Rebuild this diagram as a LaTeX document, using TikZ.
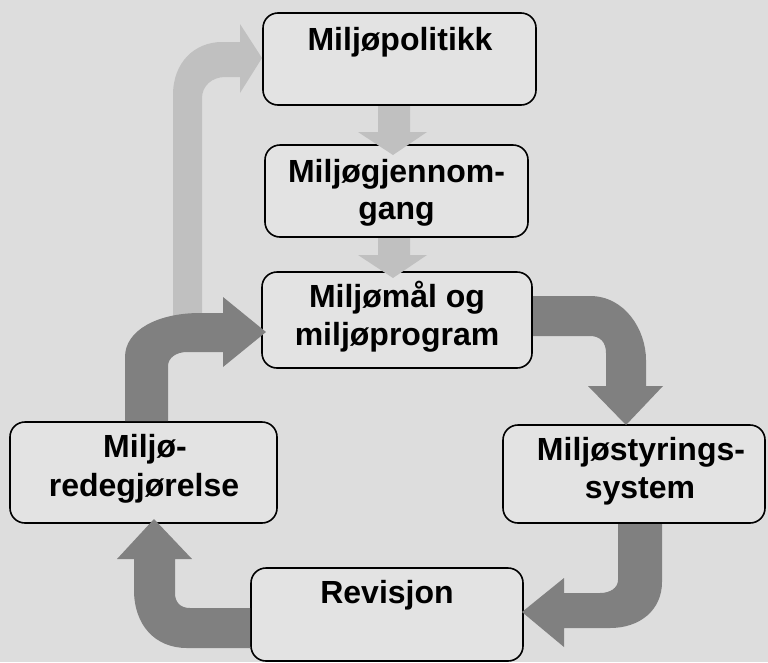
\documentclass[tikz,border=0pt]{standalone}
\usepackage{fontspec}
\setmainfont{Liberation Sans}
\definecolor{bgc}{HTML}{DDDDDD}
\definecolor{boxc}{HTML}{E3E3E3}
\definecolor{darkc}{HTML}{808080}
\definecolor{lightc}{HTML}{C0C0C0}
\begin{document}
\begin{tikzpicture}[x=1pt,y=-1pt,
  box/.style={draw=black,line width=1.6pt,fill=boxc,rounded corners=15pt,inner sep=0pt,rectangle},
  lbl/.style={anchor=base,inner sep=0pt,font=\bfseries\fontsize{32}{38}\selectfont},
  darkarrow/.style={fill=darkc},
  lightarrow/.style={fill=lightc}]
\useasboundingbox (0,0) rectangle (768,662);
\fill[bgc] (0,0) rectangle (768,662);
% boxes
\node[box,minimum width=273pt,minimum height=92pt] (b1) at (399.5,59) {};
\node[box,minimum width=263pt,minimum height=92pt] (b2) at (396.5,191) {};
\node[box,minimum width=270pt,minimum height=96pt] (b3) at (397,320) {};
\node[box,minimum width=262pt,minimum height=98pt] (b4) at (634,474) {};
\node[box,minimum width=272pt,minimum height=93pt] (b5) at (387,614.5) {};
\node[box,minimum width=267pt,minimum height=101pt] (b6) at (143.5,472.5) {};
% texts
\node[lbl] (t1) at (400,50) {Miljøpolitikk};
\node[lbl] (t2a) at (396.5,182) {Miljøgjennom-};
\node[lbl] (t2b) at (396.5,219) {gang};
\node[lbl] (t3a) at (397,307) {Miljømål og};
\node[lbl] (t3b) at (397,345) {miljøprogram};
\node[lbl] (t4a) at (641,460) {Miljøstyrings-};
\node[lbl] (t4b) at (640,498) {system};
\node[lbl] (t6a) at (145,457) {Miljø-};
\node[lbl] (t6b) at (144,496) {redegjørelse};
\node[lbl] (t5) at (387,603) {Revisjon};
% light big arrow (b6/b3 side up to b1)
\fill[lightarrow] (173,345) -- (173,95) .. controls (173,62) and (195,42) .. (222,42)
  -- (240,42) -- (240,24) -- (262,58) -- (240,93) -- (240,77) -- (225,77)
  .. controls (212,77) and (202,86) .. (202,98) -- (202,345) -- cycle;
% small light arrows
\fill[lightarrow] (378,106) -- (410,106) -- (410,132) -- (427,132) -- (393,155) -- (358,132) -- (378,132) -- cycle;
\fill[lightarrow] (378,238) -- (410,238) -- (410,255) -- (427,255) -- (393,278) -- (358,255) -- (378,255) -- cycle;
% dark arrow b6 -> b3
\fill[darkarrow] (125,421) -- (125,357) .. controls (125,330) and (158,313) .. (200,313)
  -- (223,313) -- (223,297) -- (266,332) -- (223,367) -- (223,352) -- (187,352)
  .. controls (176,352) and (168,358) .. (168,366) -- (168,421) -- cycle;
% dark arrow b3 -> b4
\fill[darkarrow] (533,296) -- (590,296) .. controls (625,296) and (646,330) .. (646,360)
  -- (646,386) -- (663,386) -- (626,425) -- (588,386) -- (606,386) -- (606,353)
  .. controls (606,342) and (600,336) .. (590,336) -- (533,336) -- cycle;
% dark arrow b4 -> b5
\fill[darkarrow] (618,524) -- (618,580) .. controls (618,588) and (610,593) .. (600,593)
  -- (564,593) -- (564,578) -- (522,612) -- (564,647) -- (564,628) -- (610,628)
  .. controls (640,628) and (662,610) .. (662,582) -- (662,524) -- cycle;
% dark arrow b5 -> b6
\fill[darkarrow] (250,608) -- (190,608) .. controls (180,608) and (175,602) .. (175,593)
  -- (175,559) -- (192,559) -- (154,519) -- (117,559) -- (134,559) -- (134,590)
  .. controls (134,625) and (155,648) .. (187,648) -- (250,648) -- cycle;
\end{tikzpicture}
\end{document}
